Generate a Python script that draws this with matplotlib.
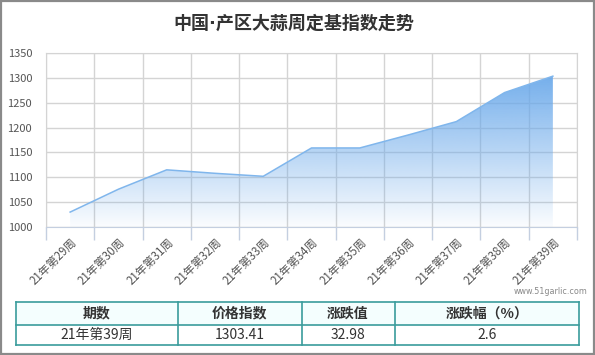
import numpy as np
import matplotlib
matplotlib.use("Agg")
import matplotlib.pyplot as plt
from matplotlib.patches import Rectangle
from matplotlib.lines import Line2D

plt.rcParams['font.family'] = ['Noto Sans CJK SC', 'DejaVu Sans']

title = "中国·产区大蒜周定基指数走势"
weeks = ["21年第29周", "21年第30周", "21年第31周", "21年第32周", "21年第33周", "21年第34周",
         "21年第35周", "21年第36周", "21年第37周", "21年第38周", "21年第39周"]
values = [1030, 1076, 1115, 1108, 1102, 1159, 1159, 1185, 1212, 1270.43, 1303.41]
yticks = [1000, 1050, 1100, 1150, 1200, 1250, 1300, 1350]
table_header = ["期数", "价格指数", "涨跌值", "涨跌幅（%）"]
table_row = ["21年第39周", "1303.41", "32.98", "2.6"]
watermark = "www.51garlic.com"

W, H = 595, 355
fig = plt.figure(figsize=(W / 100, H / 100), dpi=100)
fig.patch.set_facecolor("white")

L, R, T, B = 46, 577, 53, 227
ax = fig.add_axes([L / W, 1 - B / H, (R - L) / W, (B - T) / H])
x = np.arange(len(values))
ax.set_xlim(-0.5, len(values) - 0.5)
ax.set_ylim(1000, 1350)

grid_c = "#d4d4d4"
ax.set_xticks(x)
ax.set_xticks(np.arange(-0.5, len(values)), minor=True)
ax.set_xticklabels(weeks, rotation=45, ha="right", va="top", rotation_mode="anchor",
                   fontsize=8.3, color="#555555")
ax.tick_params(axis="x", which="major", length=0, pad=6)
ax.tick_params(axis="x", which="minor", length=9, width=1, color="#c4cfe0")
ax.set_yticks(yticks)
ax.set_yticklabels([str(v) for v in yticks], fontsize=8, color="#555555")
ax.tick_params(axis="y", length=0, pad=10)
ax.grid(True, which="minor", axis="x", color=grid_c, lw=1)
ax.grid(True, which="major", axis="y", color=grid_c, lw=1)
ax.set_axisbelow(True)
for s in ["top", "right", "left"]:
    ax.spines[s].set_color(grid_c)
ax.spines["bottom"].set_color("#c4cfe0")

# gradient fill
poly = ax.fill_between(x, values, 1000, color="none", lw=0)
ymax = max(values)
n = 256
alpha = np.linspace(0.92, 0.03, n)[:, None]
rgb = np.array([105, 168, 234]) / 255.0
img = np.zeros((n, 1, 4))
img[..., :3] = rgb
img[..., 3] = alpha
im = ax.imshow(img, extent=[x[0], x[-1], 1000, ymax], origin="upper", aspect="auto", zorder=2)
im.set_clip_path(poly.get_paths()[0], transform=ax.transData)
ax.plot(x, values, color="#80b6ec", lw=1.1, zorder=3)
ax.set_xlim(-0.5, len(values) - 0.5)
ax.set_ylim(1000, 1350)

# overlay in pixel coords
ov = fig.add_axes([0, 0, 1, 1], zorder=-1)
ov.set_xlim(0, W)
ov.set_ylim(H, 0)
ov.axis("off")
ov.add_patch(Rectangle((0.5, 0.5), 593, 353, fill=False, ec="#8a8a8a", lw=1.6))
ov.text(294, 24, title, ha="center", va="center", fontsize=13, fontweight="bold", color="#333333",
        family=["DejaVu Sans", "Noto Sans CJK SC"])
ov.text(588, 292, watermark, ha="right", va="center", fontsize=5.8, color="#888888",
        family=["DejaVu Sans"])

ov2 = fig.add_axes([0, 0, 1, 1])
ov2.set_xlim(0, W)
ov2.set_ylim(H, 0)
ov2.axis("off")
cols = [16, 177.5, 301.5, 394.5, 579]
ty0, ty1, ty2 = 302, 324.5, 345
ov2.add_patch(Rectangle((cols[0], ty0), cols[-1] - cols[0], ty1 - ty0, fc="#f4fefe", ec="none"))
tc = "#3a9c9c"
for yy in [ty0, ty1, ty2]:
    ov2.add_line(Line2D([cols[0], cols[-1]], [yy, yy], color=tc, lw=1.2))
for xx in cols:
    ov2.add_line(Line2D([xx, xx], [ty0, ty2], color=tc, lw=1.2))
for i in range(4):
    cx = (cols[i] + cols[i + 1]) / 2
    ov2.text(cx, (ty0 + ty1) / 2, table_header[i], ha="center", va="center", fontsize=10,
             fontweight="bold", color="#333333")
    ov2.text(cx, (ty1 + ty2) / 2, table_row[i], ha="center", va="center", fontsize=10,
             color="#333333")

fig.savefig("out.png", dpi=100)
